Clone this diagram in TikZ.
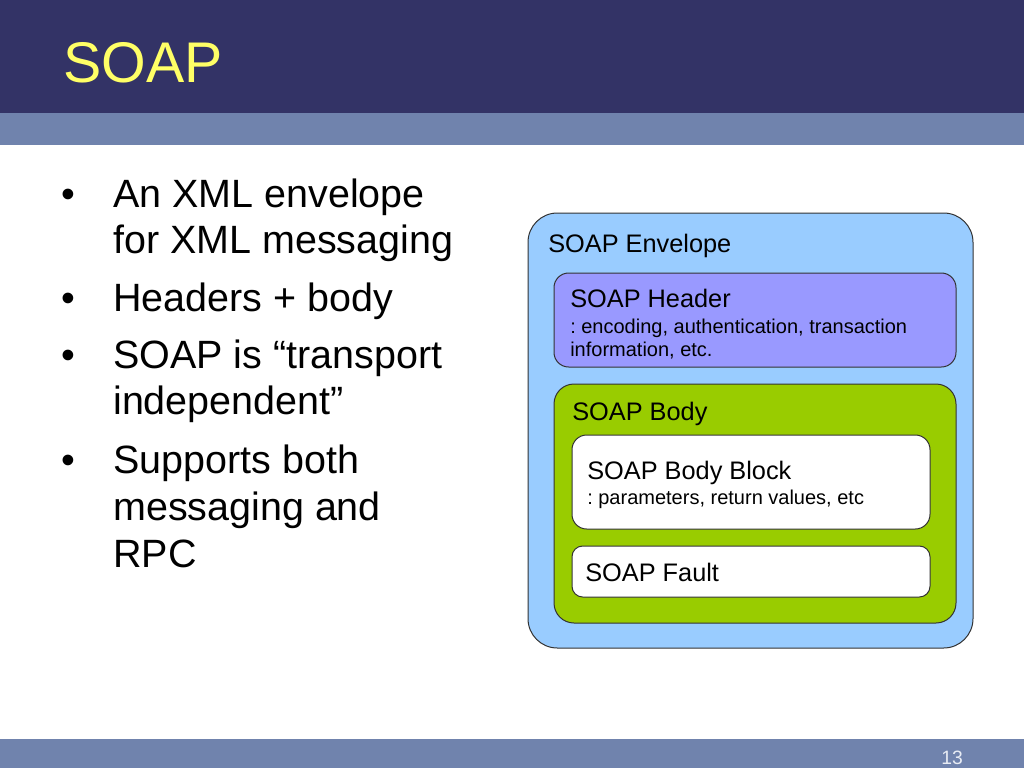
\documentclass[tikz,border=0pt]{standalone}
\usepackage{fontspec}
\setmainfont{Liberation Sans}
\frenchspacing
\definecolor{titlebar}{HTML}{333366}
\definecolor{band}{HTML}{7083AD}
\definecolor{titletxt}{HTML}{FFFF66}
\definecolor{envfill}{HTML}{99CCFF}
\definecolor{hdrfill}{HTML}{9999FF}
\definecolor{bodyfill}{HTML}{99CC00}
\definecolor{edge}{HTML}{333333}
\definecolor{pagenum}{HTML}{E8ECF4}
\tikzset{
  box/.style={draw=edge, line width=0.75pt, inner sep=0pt, rectangle},
  bul/.style={anchor=base, font=\fontsize{29.5}{35}\selectfont},
  bline/.style={anchor=base west, inner sep=0pt, font=\fontsize{29.6}{35}\selectfont},
  btitle/.style={anchor=base west, inner sep=0pt, font=\fontsize{19}{23}\selectfont},
  bsmall/.style={anchor=base west, inner sep=0pt, font=\fontsize{15}{17}\selectfont},
}
\begin{document}
\begin{tikzpicture}[x=0.75pt,y=-0.75pt]
\useasboundingbox (0,0) rectangle (1024,768);
\fill[white] (0,0) rectangle (1024,768);
% bars
\fill[titlebar] (0,0) rectangle (1024,113);
\fill[band] (0,113) rectangle (1024,145);
\fill[band] (0,739) rectangle (1024,768);
\node[anchor=base west, inner sep=0pt, text=titletxt, font=\fontsize{43}{50}\selectfont] (title) at (63,82) {SOAP};
\node[anchor=base, inner sep=0pt, text=pagenum, font=\fontsize{14.5}{17}\selectfont] (num) at (952,764) {13};
% bullets
\node[bul] (b1) at (68,207) {•};
\node[bline] (l1) at (113,207) {An XML envelope};
\node[bline] (l2) at (113,253) {for XML messaging};
\node[bul] (b2) at (68,311) {•};
\node[bline] (l3) at (113,311) {Headers + body};
\node[bul] (b3) at (68,368) {•};
\node[bline] (l4) at (113,368) {SOAP is “transport};
\node[bline] (l5) at (113,414) {independent”};
\node[bul] (b4) at (68,473) {•};
\node[bline] (l6) at (113,473) {Supports both};
\node[bline] (l7) at (113,520) {messaging and};
\node[bline] (l8) at (113,567) {RPC};
% diagram
\node[box, fill=envfill, rounded corners=22pt, minimum width=333.75pt, minimum height=326.25pt] (env) at (750.5,430.5) {};
\node[box, fill=hdrfill, rounded corners=11pt, minimum width=301.5pt, minimum height=70.5pt] (hdr) at (755,320) {};
\node[box, fill=bodyfill, rounded corners=15pt, minimum width=301.5pt, minimum height=179.25pt] (body) at (755,503.5) {};
\node[box, fill=white, rounded corners=11pt, minimum width=268.5pt, minimum height=70.5pt] (blk) at (751,482) {};
\node[box, fill=white, rounded corners=8pt, minimum width=268.5pt, minimum height=38.25pt] (fault) at (751,571.5) {};
\node[btitle] (envt) at (548,252) {SOAP Envelope};
\node[btitle] (hdrt) at (570,307) {SOAP Header};
\node[bsmall] (hdrs1) at (570,333) {: encoding, authentication, transaction};
\node[bsmall] (hdrs2) at (570,356) {information, etc.};
\node[btitle] (bodyt) at (572,420) {SOAP Body};
\node[btitle] (blkt) at (587,479) {SOAP Body Block};
\node[bsmall] (blks) at (587,504) {: parameters, return values, etc};
\node[btitle] (faultt) at (585,581) {SOAP Fault};
\end{tikzpicture}
\end{document}
